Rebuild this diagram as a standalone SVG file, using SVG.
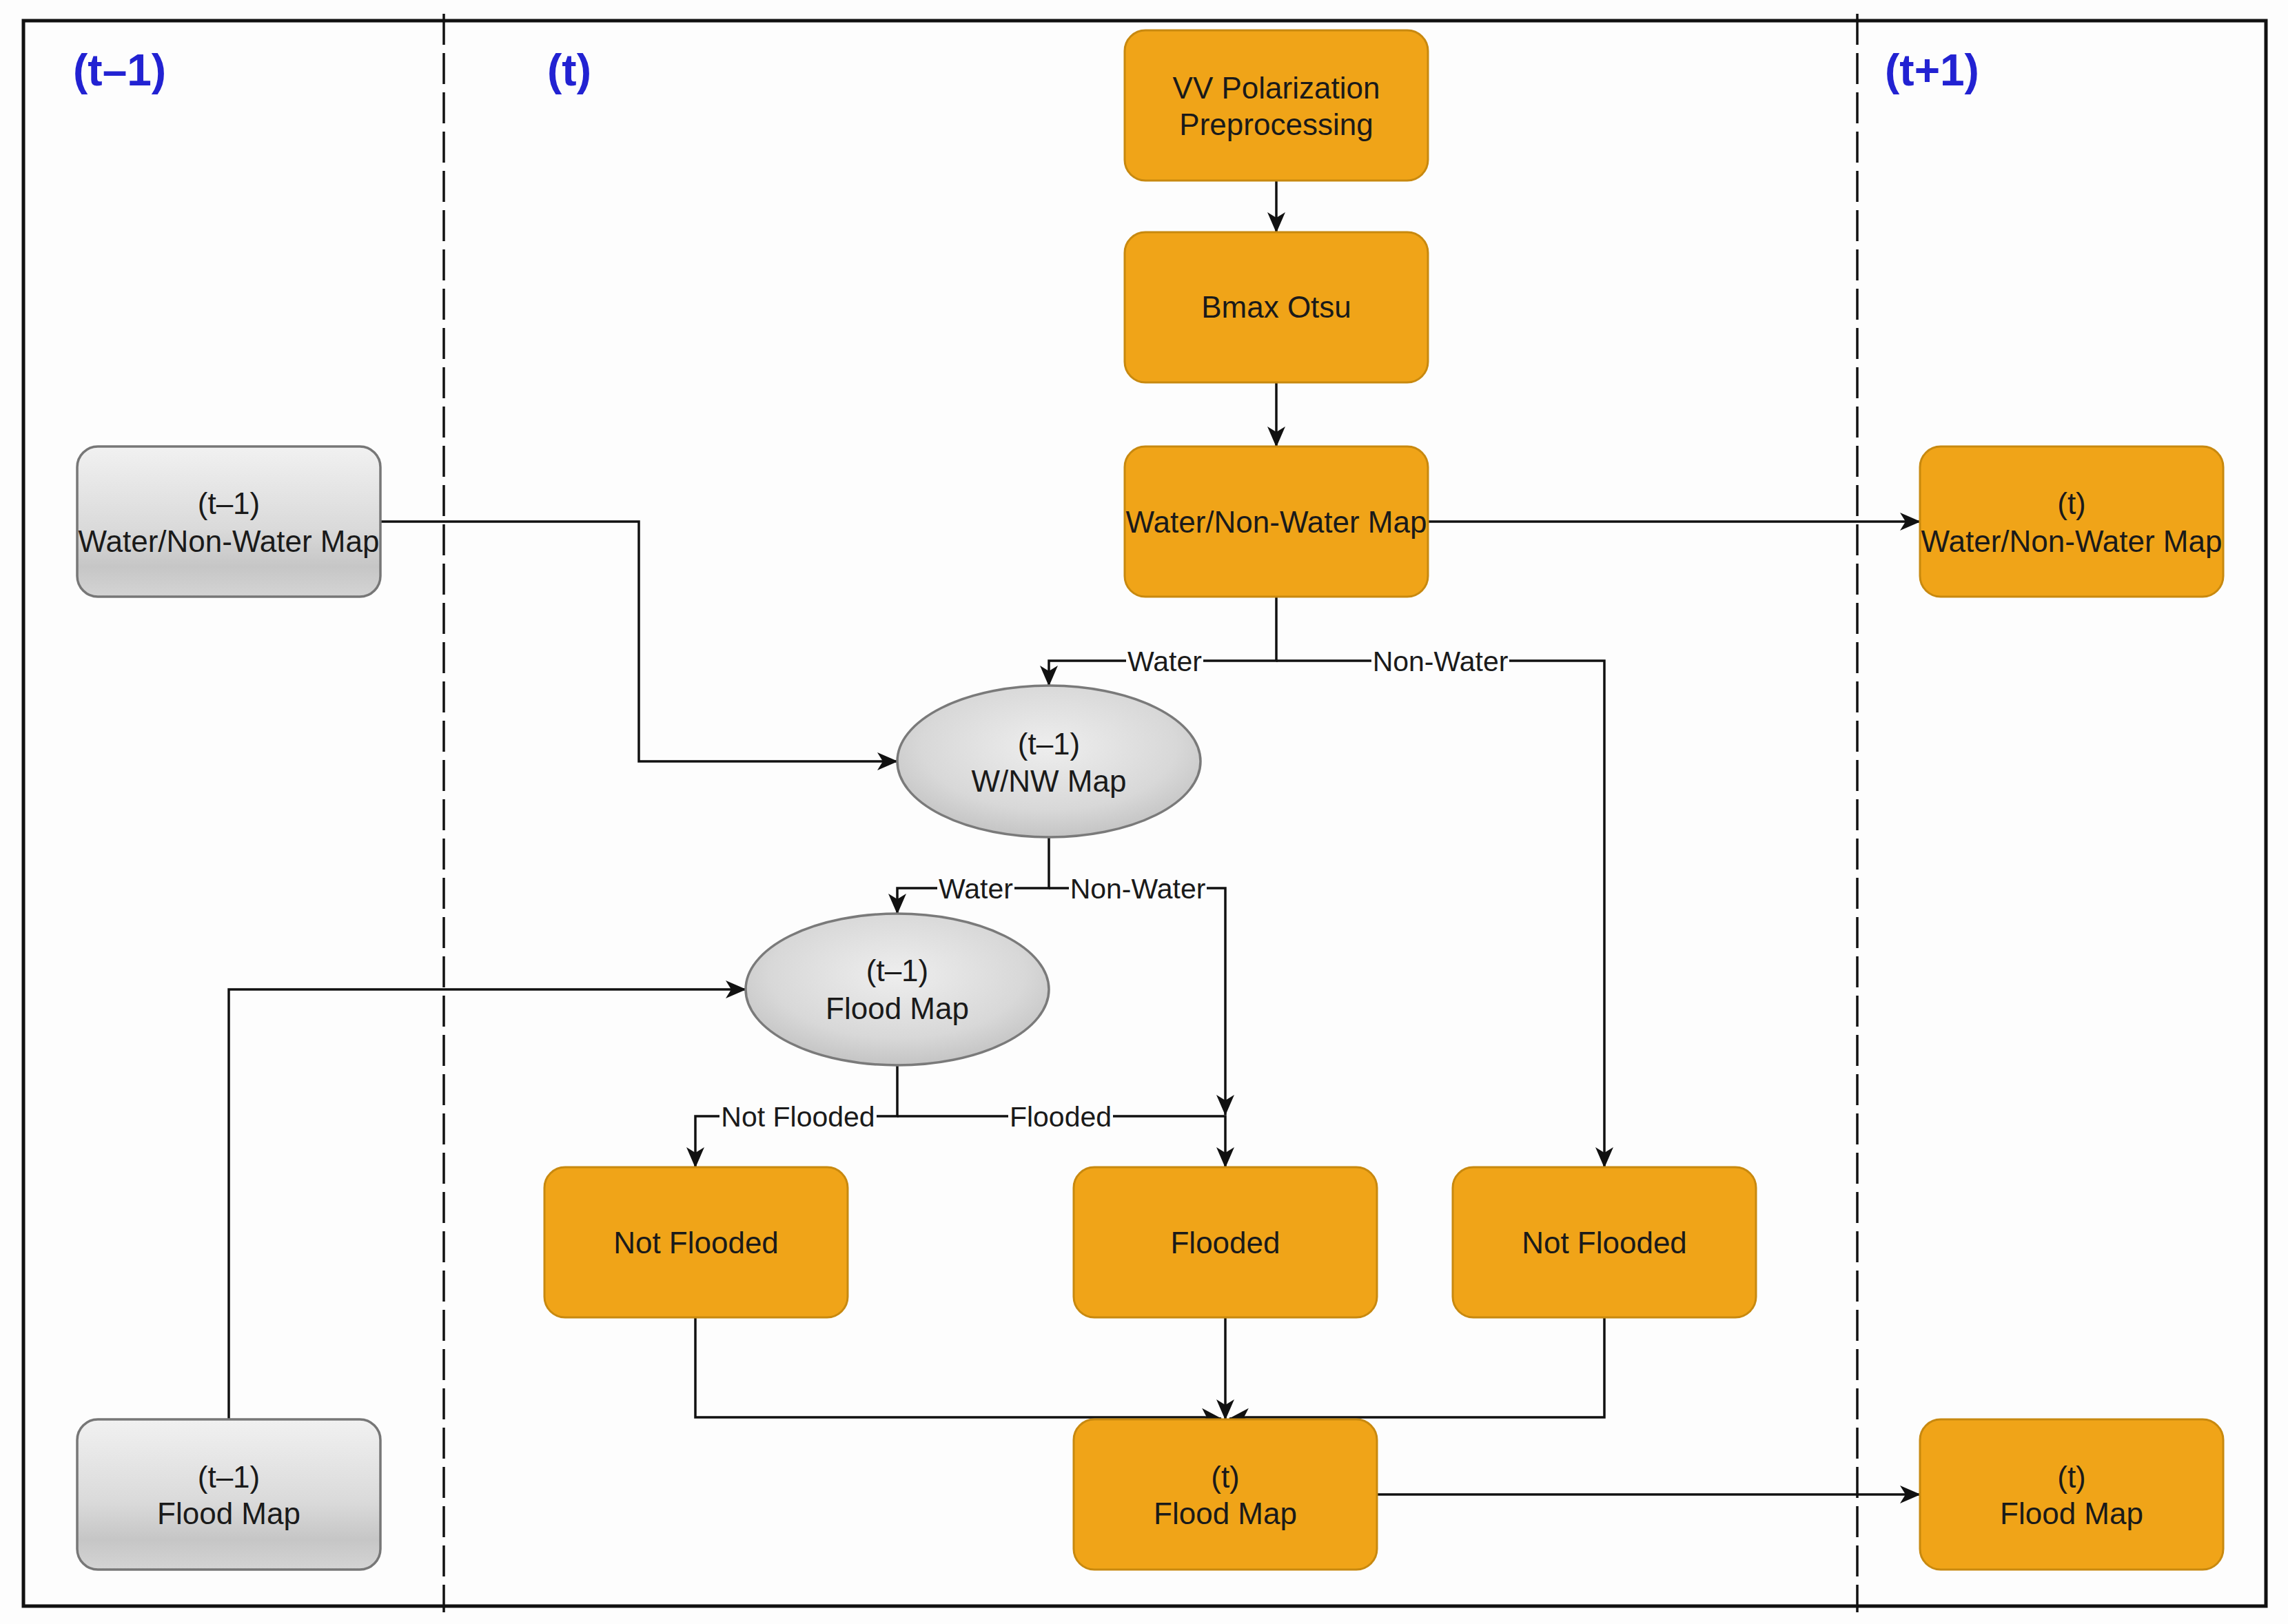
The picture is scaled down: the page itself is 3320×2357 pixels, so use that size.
<svg xmlns="http://www.w3.org/2000/svg" width="3320" height="2357" viewBox="0 0 3320 2357">
<defs>
<linearGradient id="gGray" x1="0" y1="0" x2="0" y2="1">
<stop offset="0" stop-color="#f1f1f1"/>
<stop offset="0.55" stop-color="#dadada"/>
<stop offset="0.8" stop-color="#c6c6c6"/>
<stop offset="1" stop-color="#d4d4d4"/>
</linearGradient>
<radialGradient id="gEll" cx="0.5" cy="0.4" r="0.6">
<stop offset="0" stop-color="#eeeeee"/>
<stop offset="0.7" stop-color="#d8d8d8"/>
<stop offset="1" stop-color="#c4c4c4"/>
</radialGradient>
<marker id="arr" markerUnits="userSpaceOnUse" markerWidth="32" markerHeight="30" refX="29" refY="14" orient="auto">
<path d="M0,1 L30,14 L0,27 L8,14 z" fill="#111"/>
</marker>
</defs>
<style>
.orange{fill:#F0A418;stroke:#C8890F;stroke-width:3}
.gray{fill:url(#gGray);stroke:#777;stroke-width:3.5}
.ell{fill:url(#gEll);stroke:#7a7a7a;stroke-width:3.5}
.t{font-family:"Liberation Sans",Arial,sans-serif;font-size:44px;fill:#1a1a1a;text-anchor:middle}
.lbl{font-family:"Liberation Sans",Arial,sans-serif;font-size:41px;fill:#1a1a1a;text-anchor:middle}
.lblbg{fill:#fdfdfd}
.blue{font-family:"Liberation Sans",Arial,sans-serif;font-size:64px;font-weight:bold;fill:#2222d2}
.c{fill:none;stroke:#111;stroke-width:3.5}
.ca{fill:none;stroke:#111;stroke-width:3.5;marker-end:url(#arr)}
.dash{stroke:#111;stroke-width:3.5;stroke-dasharray:45 12}
</style>
<rect x="0" y="0" width="3320" height="2357" fill="#fdfdfd"/>
<rect x="34" y="30" width="3254" height="2301" fill="none" stroke="#111" stroke-width="5"/>
<line class="dash" x1="644" y1="20" x2="644" y2="2340"/>
<line class="dash" x1="2695" y1="20" x2="2695" y2="2340"/>
<text class="blue" x="106" y="124">(t–1)</text>
<text class="blue" x="794" y="124">(t)</text>
<text class="blue" x="2735" y="124">(t+1)</text>

<g id="connectors">
<path class="ca" d="M1852,263 V337"/>
<path class="ca" d="M1852,556 V648"/>
<path class="ca" d="M2072,757 H2786"/>
<path class="ca" d="M553,757 H927 V1105 H1302"/>
<path class="ca" d="M1852,866 V959 H1522 V995"/>
<path class="ca" d="M1852,959 H2328 V1694"/>
<path class="ca" d="M1522,1215 V1289 H1302 V1326"/>
<path class="ca" d="M1522,1289 H1778 V1618"/>
<path class="ca" d="M1302,1546 V1620 H1009 V1694"/>
<path class="ca" d="M1302,1620 H1778 V1694"/>
<path class="ca" d="M332,2060 V1436 H1082"/>
<path class="ca" d="M1009,1912 V2057 H1748 L1772,2059"/>
<path class="ca" d="M2328,1912 V2057 H1808 L1784,2059"/>
<path class="ca" d="M1778,1912 V2060"/>
<path class="ca" d="M1998,2169 H2786"/>
</g>

<g id="edge-labels">
<rect class="lblbg" x="1634" y="937" width="112" height="44"/>
<text class="lbl" x="1690" y="974">Water</text>
<rect class="lblbg" x="1990" y="937" width="200" height="44"/>
<text class="lbl" x="2090" y="974">Non-Water</text>
<rect class="lblbg" x="1360" y="1267" width="112" height="44"/>
<text class="lbl" x="1416" y="1304">Water</text>
<rect class="lblbg" x="1551" y="1267" width="200" height="44"/>
<text class="lbl" x="1651" y="1304">Non-Water</text>
<rect class="lblbg" x="1044" y="1598" width="228" height="44"/>
<text class="lbl" x="1158" y="1635">Not Flooded</text>
<rect class="lblbg" x="1463" y="1598" width="152" height="44"/>
<text class="lbl" x="1539" y="1635">Flooded</text>
</g>

<g id="vv-preprocessing">
<rect class="orange" x="1632" y="44" width="440" height="218" rx="30"/>
<text class="t" x="1852" y="143">VV Polarization</text>
<text class="t" x="1852" y="196">Preprocessing</text>
</g>
<g id="bmax-otsu">
<rect class="orange" x="1632" y="337" width="440" height="218" rx="30"/>
<text class="t" x="1852" y="461">Bmax Otsu</text>
</g>
<g id="wnw-map">
<rect class="orange" x="1632" y="648" width="440" height="218" rx="30"/>
<text class="t" x="1852" y="773">Water/Non-Water Map</text>
</g>
<g id="prev-wnw-map">
<rect class="gray" x="112" y="648" width="440" height="218" rx="30"/>
<text class="t" x="332" y="746">(t–1)</text>
<text class="t" x="332" y="801">Water/Non-Water Map</text>
</g>
<g id="next-wnw-map">
<rect class="orange" x="2786" y="648" width="440" height="218" rx="30"/>
<text class="t" x="3006" y="746">(t)</text>
<text class="t" x="3006" y="801">Water/Non-Water Map</text>
</g>
<g id="prev-wnw-ellipse">
<ellipse class="ell" cx="1522" cy="1105" rx="220" ry="110"/>
<text class="t" x="1522" y="1095">(t–1)</text>
<text class="t" x="1522" y="1149">W/NW Map</text>
</g>
<g id="prev-flood-ellipse">
<ellipse class="ell" cx="1302" cy="1436" rx="220" ry="110"/>
<text class="t" x="1302" y="1424">(t–1)</text>
<text class="t" x="1302" y="1479">Flood Map</text>
</g>
<g id="not-flooded-1">
<rect class="orange" x="790" y="1694" width="440" height="218" rx="30"/>
<text class="t" x="1010" y="1819">Not Flooded</text>
</g>
<g id="flooded">
<rect class="orange" x="1558" y="1694" width="440" height="218" rx="30"/>
<text class="t" x="1778" y="1819">Flooded</text>
</g>
<g id="not-flooded-2">
<rect class="orange" x="2108" y="1694" width="440" height="218" rx="30"/>
<text class="t" x="2328" y="1819">Not Flooded</text>
</g>
<g id="flood-map">
<rect class="orange" x="1558" y="2060" width="440" height="218" rx="30"/>
<text class="t" x="1778" y="2159">(t)</text>
<text class="t" x="1778" y="2212">Flood Map</text>
</g>
<g id="prev-flood-map">
<rect class="gray" x="112" y="2060" width="440" height="218" rx="30"/>
<text class="t" x="332" y="2159">(t–1)</text>
<text class="t" x="332" y="2212">Flood Map</text>
</g>
<g id="next-flood-map">
<rect class="orange" x="2786" y="2060" width="440" height="218" rx="30"/>
<text class="t" x="3006" y="2159">(t)</text>
<text class="t" x="3006" y="2212">Flood Map</text>
</g>
</svg>
